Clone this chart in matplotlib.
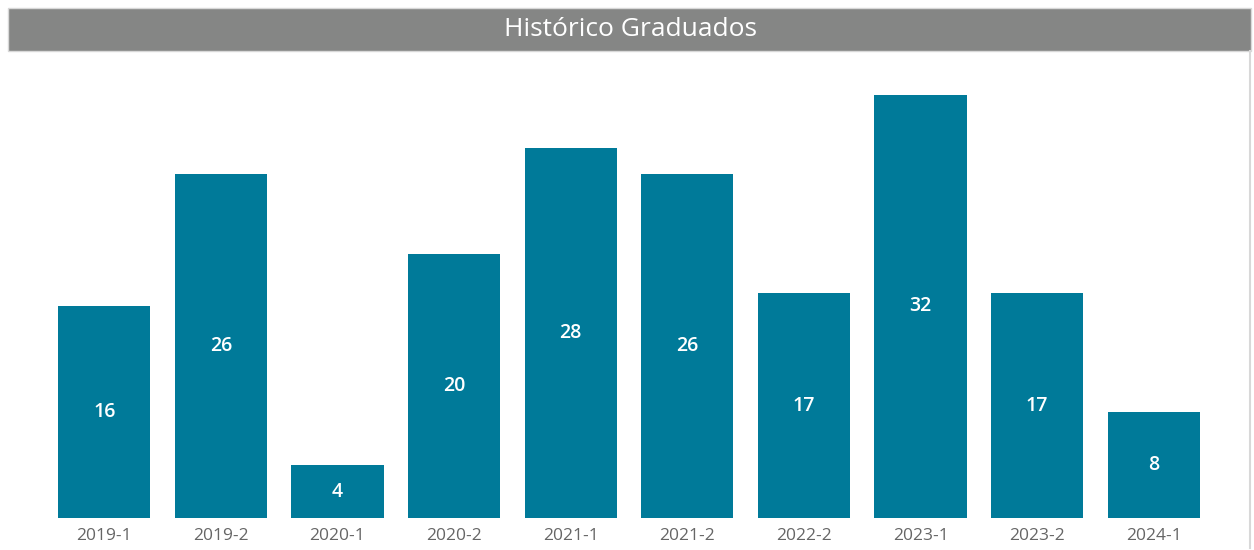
import matplotlib.pyplot as plt
from matplotlib.patches import Rectangle

plt.rcParams['font.family'] = ['Open Sans', 'DejaVu Sans']

# data
periods = ['2019-1', '2019-2', '2020-1', '2020-2', '2021-1',
           '2021-2', '2022-2', '2023-1', '2023-2', '2024-1']
graduados = [16, 26, 4, 20, 28, 26, 17, 32, 17, 8]

W, H = 1254, 550
fig = plt.figure(figsize=(W / 100, H / 100), dpi=100)
fig.patch.set_facecolor('white')

# title bar
fig.patches.append(Rectangle((8 / W, 1 - 51 / H), 1243 / W, 43 / H,
                             transform=fig.transFigure, facecolor='#858685',
                             edgecolor='#d8d8d8', linewidth=1))
fig.text(630 / W, 1 - 30 / H, 'Histórico Graduados', color='white',
         fontsize=19, ha='center', va='center')
# right border
fig.add_artist(plt.Line2D([1250 / W, 1250 / W], [1 - 548 / H, 1 - 51 / H],
                          transform=fig.transFigure, color='#d8d8d8', lw=1.5))

# axes: baseline at y=518, 13.22 px per unit
ymax = 34
top_px = 518 - ymax * 13.22
ax = fig.add_axes([46 / W, 1 - 518 / H, (1212 - 46) / W, (518 - top_px) / H])
x = range(len(periods))
bars = ax.bar(x, graduados, width=0.79, color='#007A99')
ax.set_xlim(-0.5, len(periods) - 0.5)
ax.set_ylim(0, ymax)

for xi, v in zip(x, graduados):
    ax.text(xi, v / 2, str(v), color='white', fontsize=14, fontweight='semibold',
            ha='center', va='center')

ax.set_xticks(list(x))
ax.set_xticklabels(periods, color='#666666', fontsize=12.5)
ax.tick_params(axis='x', length=0, pad=7)
ax.set_yticks([])
for s in ax.spines.values():
    s.set_visible(False)

fig.savefig('out.png', dpi=100)
